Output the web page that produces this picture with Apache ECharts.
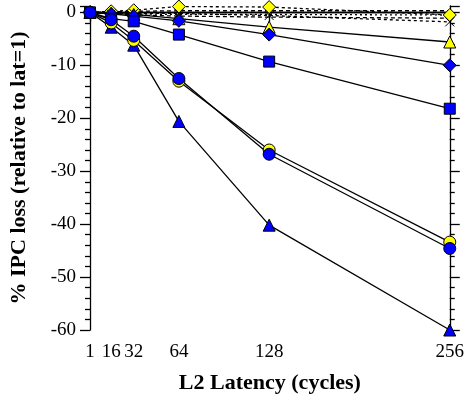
<!DOCTYPE html>
<html>
<head>
<meta charset="UTF-8">
<script src="https://cdn.jsdelivr.net/npm/echarts@6/dist/echarts.min.js"></script>
</head>
<body style="margin:0">
<div id="dv" style="width:467px;height:400px;"></div>
<script>
var latency = [1, 16, 32, 64, 128, 256]
var yTicks = [-60, -50, -40, -30, -20, -10, 0]

// solid series with markers
var blueTriangle = [0, -2.8, -6.2, -20.6, -40.2, -60]
var yellowCircle = [0, -2.0, -5.3, -13.0, -26.0, -43.4]
var blueCircle = [0, -1.4, -4.5, -12.5, -26.8, -44.6]
var blueSquare = [0, -1.2, -1.7, -4.2, -9.3, -18.2]
var blueDiamond = [0, -0.3, -0.7, -1.6, -4.2, -10.0]
var yellowTriangle = [0, -0.2, -0.4, -1.2, -2.8, -5.6]
// dashed series
var crossMark = [0, -0.3, -0.2, -0.2, -0.6, -1.8]
var yellowDiamond = [0, 0.2, 0.4, 1.1, 1.0, -0.5]
var dash1 = [0, 0.1, 0.2, 0.3, 0.3, 0.3]
var dash2 = [0, -0.2, -0.3, -0.4, -0.4, -0.5]
var dash3 = [0, -0.3, -0.5, -0.7, -0.9, -1.1]

function pts(v) { return latency.map((x, i) => [x, v[i]]) }

var font = 'Liberation Serif'
var line = { color: '#000', width: 1.3 }

function mk(data, symbol, color, size, dashed) {
    return {
        type: 'line',
        data: pts(data),
        symbol: symbol,
        symbolSize: size,
        clip: false,
        lineStyle: { color: '#000', width: 1.3, type: dashed ? [3, 3] : 'solid' },
        itemStyle: { color: color, borderColor: '#000', borderWidth: 1 },
        animation: false
    }
}
function plain(data, dash) {
    return {
        type: 'line', data: pts(data), symbol: 'none', clip: false,
        lineStyle: { color: '#000', width: 1.3, type: dash }, animation: false
    }
}

var chart = echarts.init(document.getElementById('dv'))
chart.setOption({
    grid: { left: 90, right: 14, top: 6, bottom: 70 },
    xAxis: [{
        type: 'value', min: 1, max: 256,
        name: 'L2 Latency (cycles)', nameLocation: 'middle', nameGap: 42,
        nameTextStyle: { fontFamily: font, fontWeight: 'bold', fontSize: 22, color: '#000' },
        axisLine: { lineStyle: line },
        axisTick: { customValues: latency, length: 10, lineStyle: line },
        axisLabel: { customValues: latency, fontFamily: font, fontSize: 19, color: '#000', margin: 13 },
        splitLine: { show: false }
    }, {
        type: 'value', position: 'top', min: 1, max: 256,
        axisLine: { show: true, lineStyle: line },
        axisTick: { show: false }, axisLabel: { show: false }, splitLine: { show: false }
    }],
    yAxis: [{
        type: 'value', min: -60, max: 1.2, interval: 10,
        name: '% IPC loss (relative to lat=1)', nameLocation: 'middle', nameGap: 60,
        nameTextStyle: { fontFamily: font, fontWeight: 'bold', fontSize: 22, color: '#000' },
        axisLine: { show: true, lineStyle: line },
        axisTick: { length: 10, lineStyle: line },
        minorTick: { show: true, splitNumber: 5, length: 5, lineStyle: line },
        axisLabel: {
            fontFamily: font, fontSize: 19, color: '#000', margin: 14,
            formatter: v => yTicks.includes(v) ? String(v) : ''
        },
        splitLine: { show: false }
    }, {
        type: 'value', position: 'right', min: -60, max: 1.2, interval: 10,
        axisLine: { show: true, lineStyle: line },
        axisTick: { length: 10, lineStyle: line },
        minorTick: { show: true, splitNumber: 5, length: 5, lineStyle: line },
        axisLabel: { show: false },
        splitLine: { show: false }
    }],
    series: [
        plain(dash1, [4, 3]),
        plain(dash2, [2, 3]),
        plain(dash3, [4, 3]),
        mk(yellowDiamond, 'diamond', '#ffff00', 13, true),
        mk(crossMark, 'path://M0,0L10,10M10,0L0,10', '#000', 9, true),
        mk(yellowTriangle, 'triangle', '#ffff00', 12, false),
        mk(blueDiamond, 'diamond', '#0000ff', 13, false),
        mk(blueSquare, 'rect', '#0000ff', 11, false),
        mk(blueTriangle, 'triangle', '#0000ff', 12, false),
        mk(yellowCircle, 'circle', '#ffff00', 12, false),
        mk(blueCircle, 'circle', '#0000ff', 12, false)
    ]
})
</script>
</body>
</html>
